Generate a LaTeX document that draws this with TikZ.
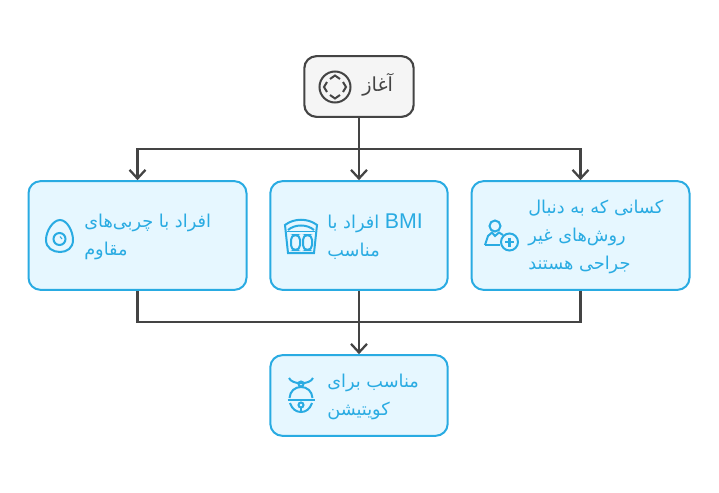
\documentclass[tikz,border=0pt]{standalone}
\usepackage{fontspec}
\TeXXeTstate=1
\setmainfont{Liberation Sans}
\newfontfamily\farsi[Script=Arabic]{DejaVu Sans}
\newcommand{\fa}[1]{{\farsi\beginR #1\endR}}
\definecolor{edgecol}{HTML}{444444}
\definecolor{bluecol}{HTML}{29ABE2}
\definecolor{bluefill}{HTML}{E6F7FF}
\definecolor{startfill}{HTML}{F5F5F5}
\usetikzlibrary{arrows.meta}
\tikzset{
	startbox/.style={draw=edgecol, fill=startfill, line width=1.6pt, rounded corners=9pt, minimum width=82pt, minimum height=45.5pt},
	bluebox/.style={draw=bluecol, fill=bluefill, line width=1.5pt, rounded corners=9pt},
	label/.style={text=bluecol, font=\fontsize{13.3}{21}\selectfont, align=left, anchor=west, inner sep=0pt},
	link/.style={draw=edgecol, line width=1.7pt},
	arrowlink/.style={link, -{Straight Barb[length=6.5pt, width=12pt, line width=1.7pt]}},
	iconblue/.style={draw=bluecol, line width=1.5pt},
	icongray/.style={draw=edgecol, line width=1.5pt}
}
\begin{document}
\begin{tikzpicture}[x=0.75pt, y=-0.75pt]
	\useasboundingbox (0,0) rectangle (719,493);
	% boxes
	\node[startbox] (start) at (359,86.5) {};
	\node[bluebox, minimum width=163.5pt, minimum height=81.5pt] (fat) at (137.5,235.5) {};
	\node[bluebox, minimum width=133pt, minimum height=81.5pt] (bmi) at (359,235.5) {};
	\node[bluebox, minimum width=163.5pt, minimum height=81.5pt] (other) at (580.5,235.5) {};
	\node[bluebox, minimum width=133pt, minimum height=60.5pt] (fit) at (359,395.5) {};
	% links
	\coordinate (up) at (359,149);
	\coordinate (low) at (359,322);
	\draw[arrowlink] (start) -- (bmi);
	\draw[arrowlink] (up) -| (fat.north);
	\draw[arrowlink] (up) -| (other.north);
	\draw[link] (bmi.south) -- (low);
	\draw[link] (fat.south) |- (low);
	\draw[link] (other.south) |- (low);
	\draw[arrowlink] (low) -- (fit.north);
	% texts
	\node[text=edgecol, font=\fontsize{14.5}{16}\selectfont, anchor=west, inner sep=0pt] (starttext) at (362,85) {\fa{آغاز}};
	\node[label] (fattext) at (84,237) {\fa{افراد با چربی‌های}\\\fa{مقاوم}};
	\node[label] (bmitext) at (327,237) {\fa{\beginL{\rmfamily\fontsize{16}{21}\selectfont BMI}\endL{} افراد با}\\\fa{مناسب}};
	\node[label] (othertext) at (528,237) {\fa{کسانی که به دنبال}\\\fa{روش‌های غیر}\\\fa{جراحی هستند}};
	\node[label] (fittext) at (327,397) {\fa{مناسب برای}\\\fa{کویتیشن}};
	% start icon
	\draw[icongray] (335,87) circle (15.5);
	\draw[icongray] (330,79) -- (335,75.5) -- (340,79);
	\draw[icongray] (343,82) -- (346,87) -- (343,92);
	\draw[icongray] (340,95) -- (335,98.5) -- (330,95);
	\draw[icongray] (327,92) -- (324,87) -- (327,82);
	% egg icon
	\draw[iconblue] (60,220) .. controls (67,220) and (73,231) .. (73,240) .. controls (73,248) and (67,252) .. (60,252) .. controls (53,252) and (46,248) .. (46,240) .. controls (46,231) and (53,220) .. (60,220) -- cycle;
	\draw[iconblue] (59.5,239) circle (6);
	\draw[iconblue, line width=0.8pt] (60,236.5) -- (62,239);
	% scale icon
	\draw[iconblue] (285,225) .. controls (294,218) and (308,218) .. (317,225) -- (314,253) -- (288,253) -- cycle;
	\draw[iconblue] (288,230) .. controls (295,224) and (307,224) .. (314,230);
	\draw[iconblue, line width=1pt] (287,231.5) -- (315,231.5);
	\draw[iconblue, rounded corners=3.5pt] (291,235) rectangle (300,250);
	\draw[iconblue, rounded corners=3.5pt] (303,235) rectangle (312,250);
	% person icon
	\draw[iconblue] (495,226) circle (5.5);
	\draw[iconblue] (485,245) -- (488,236) -- (492,232.5) -- (495,236) -- (499,232.5) -- (503,235);
	\draw[iconblue] (485,245) -- (500,245);
	\draw[iconblue] (509.5,242) circle (8.5);
	\draw[iconblue, line width=2pt] (505,242) -- (514,242);
	\draw[iconblue, line width=2pt] (509.5,237.5) -- (509.5,246.5);
	% bell icon
	\draw[iconblue] (289,378) .. controls (292,385) and (310,385) .. (313,378);
	\draw[iconblue] (301,384) circle (2.5);
	\draw[iconblue] (289.5,398) .. controls (290,391) and (295,387) .. (301,387) .. controls (307,387) and (312,391) .. (312.5,398);
	\draw[iconblue, line width=2pt] (287.5,400) -- (314.5,400);
	\draw[iconblue] (290,403) .. controls (292,409) and (296,412) .. (301,412) .. controls (306,412) and (310,409) .. (312,403);
	\draw[iconblue] (301,405) circle (2.5);
	\draw[iconblue] (301,407) -- (301,412);
\end{tikzpicture}
\end{document}
